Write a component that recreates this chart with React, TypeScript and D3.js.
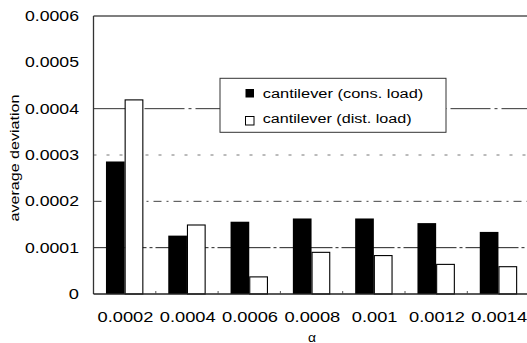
import React, { useEffect, useRef } from "react";
import * as d3 from "d3";

const categories = ["0.0002", "0.0004", "0.0006", "0.0008", "0.001", "0.0012", "0.0014"];
const consLoad = [0.000286, 0.000126, 0.000156, 0.000163, 0.000163, 0.000153, 0.000134];
const distLoad = [0.00042, 0.00015, 0.000038, 0.000091, 0.000084, 0.000065, 0.00006];
const yTicks = [0, 0.0001, 0.0002, 0.0003, 0.0004, 0.0005, 0.0006];
const seriesNames = ["cantilever (cons. load)", "cantilever (dist. load)"];

const W = 527;
const H = 343;
const FONT = "'Liberation Sans', Arial, sans-serif";

export default function App() {
  const ref = useRef<SVGSVGElement>(null);

  useEffect(() => {
    const svg = d3.select(ref.current);
    svg.selectAll("*").remove();

    const canvas = document.createElement("canvas");
    const ctx = canvas.getContext("2d")!;
    const measure = (t: string, size: number) => {
      ctx.font = `${size}px ${FONT}`;
      return ctx.measureText(t).width;
    };
    const STRETCH = 1.26;

    const left = 93.5, right = 529.6, top = 16, bottom = 294;
    const x = d3.scaleBand<string>().domain(categories).range([left, right]).paddingInner(0.4).paddingOuter(0.2);
    const x1 = d3.scaleBand<number>().domain([0, 1]).range([0, x.bandwidth()]).padding(0);
    const y = d3.scaleLinear().domain([0, 0.0006]).range([bottom, top]);

    const gridStyles: Record<string, { dash: string; color: string; w: number }> = {
      "0.0001": { dash: "22,3,3,3", color: "#222", w: 1 },
      "0.0002": { dash: "8,5,2,5", color: "#444", w: 1 },
      "0.0003": { dash: "3,10", color: "#666", w: 0.9 },
      "0.0004": { dash: "40,4,3,4", color: "#333", w: 1 },
    };

    // gridlines
    [0.0001, 0.0002, 0.0003, 0.0004].forEach((v) => {
      const s = gridStyles[String(v.toFixed(4))];
      svg.append("line")
        .attr("x1", left).attr("x2", W)
        .attr("y1", y(v)).attr("y2", y(v))
        .attr("stroke", s.color).attr("stroke-width", s.w)
        .attr("stroke-dasharray", s.dash);
    });

    // bars
    const g = svg.append("g");
    categories.forEach((c, i) => {
      [consLoad[i], distLoad[i]].forEach((v, k) => {
        g.append("rect")
          .attr("x", (x(c) as number) + (x1(k) as number) + (k === 1 ? 0.5 : 0))
          .attr("y", y(v) + (k === 1 ? 0.5 : 0))
          .attr("width", x1.bandwidth() - (k === 1 ? 1 : 0))
          .attr("height", y(0) - y(v) - (k === 1 ? 0.5 : 0))
          .attr("fill", k === 0 ? "#000" : "#fff")
          .attr("stroke", k === 0 ? "none" : "#000")
          .attr("stroke-width", 1.1);
      });
    });

    // frame
    svg.append("line").attr("x1", left).attr("x2", W).attr("y1", top).attr("y2", top)
      .attr("stroke", "#555").attr("stroke-width", 1.4);
    svg.append("line").attr("x1", left).attr("x2", left).attr("y1", top).attr("y2", bottom)
      .attr("stroke", "#333").attr("stroke-width", 1.3);
    svg.append("line").attr("x1", left).attr("x2", W).attr("y1", bottom).attr("y2", bottom)
      .attr("stroke", "#222").attr("stroke-width", 1.4);

    // small ticks at band boundaries
    const step = x.step();
    for (let i = 1; i < categories.length; i++) {
      const bx = left + step * i;
      svg.append("line").attr("x1", bx).attr("x2", bx).attr("y1", bottom).attr("y2", bottom - 3)
        .attr("stroke", "#444").attr("stroke-width", 0.9);
    }

    const addText = (t: string, px: number, py: number, size: number, anchor: string, targetW?: number, rotate?: boolean) => {
      const natural = measure(t, size);
      const len = targetW ?? natural * STRETCH;
      const el = svg.append("text")
        .attr("x", px).attr("y", py)
        .attr("font-family", FONT).attr("font-size", size)
        .attr("fill", "#000")
        .attr("text-anchor", anchor)
        .attr("textLength", len)
        .attr("lengthAdjust", "spacingAndGlyphs")
        .text(t);
      if (rotate) el.attr("transform", `rotate(-90,${px},${py})`);
      return el;
    };

    // y tick labels
    yTicks.forEach((v) => {
      const label = v === 0 ? "0" : v.toFixed(4);
      addText(label, 79, y(v) + 5, 14.5, "end", v === 0 ? undefined : 54);
    });

    // x tick labels
    categories.forEach((c) => {
      addText(c, (x(c) as number) + x.bandwidth() / 2 + 0.8, 321.5, 14.5, "middle");
    });

    // axis titles
    addText("average deviation", 19, 158, 12.5, "middle", 127, true);
    addText("α", 312, 341.5, 12, "middle", 8);

    // legend
    svg.append("rect").attr("x", 220).attr("y", 78.3).attr("width", 226).attr("height", 54)
      .attr("fill", "#fff").attr("stroke", "#333").attr("stroke-width", 1);
    svg.append("rect").attr("x", 245.5).attr("y", 89).attr("width", 8.5).attr("height", 8.5)
      .attr("fill", "#000");
    svg.append("rect").attr("x", 245.5).attr("y", 116.5).attr("width", 8.5).attr("height", 8.5)
      .attr("fill", "#fff").attr("stroke", "#000").attr("stroke-width", 1);
    addText(seriesNames[0], 262.7, 97.5, 12.5, "start", 160.6);
    addText(seriesNames[1], 262.7, 123.3, 12.5, "start", 149);
  }, []);

  return (
    <svg ref={ref} width={W} height={H} style={{ position: "absolute", left: 0, top: 0, background: "#fff" }} />
  );
}
